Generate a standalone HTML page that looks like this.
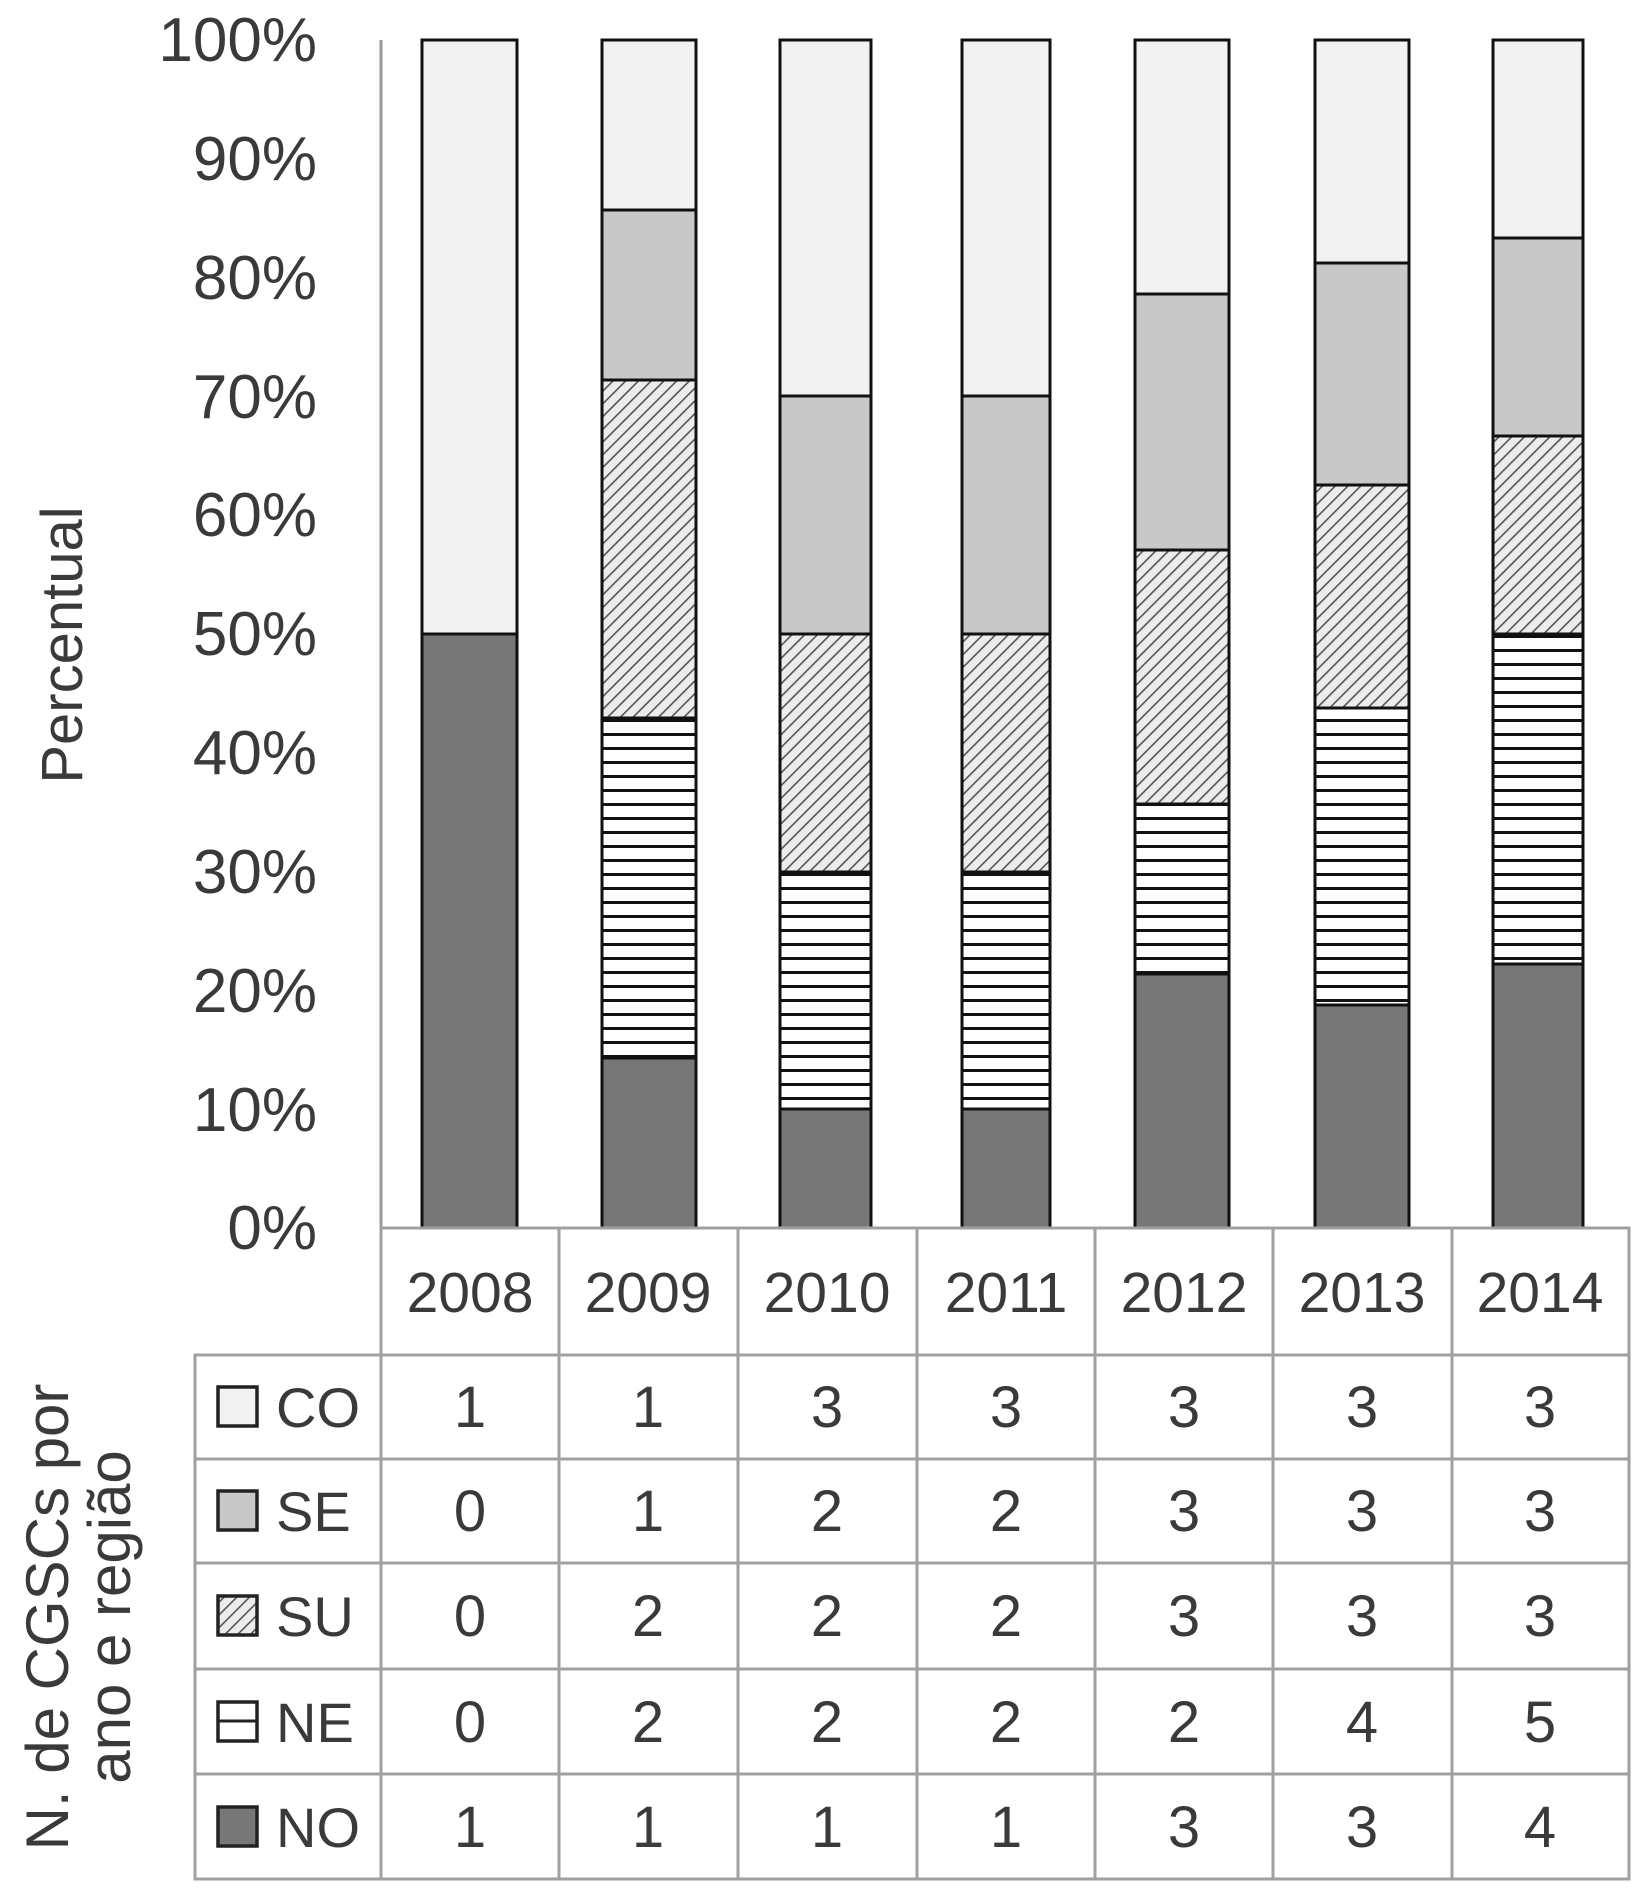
<!DOCTYPE html>
<html><head><meta charset="utf-8"><style>body{margin:0;background:#fff}svg{display:block}text{font-family:"Liberation Sans",sans-serif;fill:#3a3a3a}</style></head><body>
<svg width="1645" height="1900" viewBox="0 0 1645 1900" xmlns="http://www.w3.org/2000/svg">
<defs>
<pattern id="hz" width="10" height="14" patternUnits="userSpaceOnUse"><rect width="10" height="14" fill="#fff"/><rect y="5" width="10" height="3" fill="#111"/></pattern>
<pattern id="dg" width="9" height="9" patternUnits="userSpaceOnUse" patternTransform="rotate(45)"><rect width="9" height="9" fill="#ececec"/><rect x="0" width="1.6" height="9" fill="#555"/></pattern>
</defs>
<line x1="381" y1="40" x2="381" y2="1228" stroke="#999" stroke-width="3"/>
<g font-size="62" text-anchor="end">
<text x="317" y="61">100%</text><text x="317" y="180">90%</text><text x="317" y="299">80%</text><text x="317" y="418">70%</text><text x="317" y="536">60%</text><text x="317" y="655">50%</text><text x="317" y="774">40%</text><text x="317" y="893">30%</text><text x="317" y="1012">20%</text><text x="317" y="1131">10%</text><text x="317" y="1249">0%</text>
</g>
<text transform="translate(82,645) rotate(-90)" font-size="58" text-anchor="middle">Percentual</text>
<g stroke="#111" stroke-width="3">
<rect x="422" y="634" width="95" height="594" fill="#777"/>
<rect x="422" y="40" width="95" height="594" fill="#f2f2f2"/>

<rect x="602" y="1058" width="94" height="170" fill="#777"/>
<rect x="602" y="718" width="94" height="340" fill="url(#hz)"/>
<rect x="602" y="380" width="94" height="338" fill="url(#dg)"/>
<rect x="602" y="210" width="94" height="170" fill="#c8c8c8"/>
<rect x="602" y="40" width="94" height="170" fill="#f2f2f2"/>

<rect x="780" y="1109" width="91" height="119" fill="#777"/>
<rect x="780" y="872" width="91" height="237" fill="url(#hz)"/>
<rect x="780" y="634" width="91" height="238" fill="url(#dg)"/>
<rect x="780" y="396" width="91" height="238" fill="#c8c8c8"/>
<rect x="780" y="40" width="91" height="356" fill="#f2f2f2"/>

<rect x="962" y="1109" width="88" height="119" fill="#777"/>
<rect x="962" y="872" width="88" height="237" fill="url(#hz)"/>
<rect x="962" y="634" width="88" height="238" fill="url(#dg)"/>
<rect x="962" y="396" width="88" height="238" fill="#c8c8c8"/>
<rect x="962" y="40" width="88" height="356" fill="#f2f2f2"/>

<rect x="1135" y="974" width="94" height="254" fill="#777"/>
<rect x="1135" y="804" width="94" height="170" fill="url(#hz)"/>
<rect x="1135" y="550" width="94" height="254" fill="url(#dg)"/>
<rect x="1135" y="294" width="94" height="256" fill="#c8c8c8"/>
<rect x="1135" y="40" width="94" height="254" fill="#f2f2f2"/>

<rect x="1315" y="1005" width="94" height="223" fill="#777"/>
<rect x="1315" y="708" width="94" height="297" fill="url(#hz)"/>
<rect x="1315" y="485" width="94" height="223" fill="url(#dg)"/>
<rect x="1315" y="263" width="94" height="222" fill="#c8c8c8"/>
<rect x="1315" y="40" width="94" height="223" fill="#f2f2f2"/>

<rect x="1493" y="964" width="90" height="264" fill="#777"/>
<rect x="1493" y="634" width="90" height="330" fill="url(#hz)"/>
<rect x="1493" y="436" width="90" height="198" fill="url(#dg)"/>
<rect x="1493" y="238" width="90" height="198" fill="#c8c8c8"/>
<rect x="1493" y="40" width="90" height="198" fill="#f2f2f2"/>
</g>
<g stroke="#a0a0a0" stroke-width="3" fill="none">
<rect x="381" y="1228" width="1248" height="651"/>
<rect x="195" y="1355" width="186" height="524"/>
<line x1="195" y1="1355" x2="1629" y2="1355"/>
<line x1="195" y1="1459" x2="1629" y2="1459"/>
<line x1="195" y1="1563" x2="1629" y2="1563"/>
<line x1="195" y1="1669" x2="1629" y2="1669"/>
<line x1="195" y1="1774" x2="1629" y2="1774"/>
<line x1="559" y1="1228" x2="559" y2="1879"/>
<line x1="738" y1="1228" x2="738" y2="1879"/>
<line x1="917" y1="1228" x2="917" y2="1879"/>
<line x1="1095" y1="1228" x2="1095" y2="1879"/>
<line x1="1273" y1="1228" x2="1273" y2="1879"/>
<line x1="1452" y1="1228" x2="1452" y2="1879"/>
</g>
<g font-size="57" text-anchor="middle">
<text x="470" y="1312">2008</text><text x="648" y="1312">2009</text><text x="827" y="1312">2010</text><text x="1006" y="1312">2011</text><text x="1184" y="1312">2012</text><text x="1362" y="1312">2013</text><text x="1540" y="1312">2014</text>
<g font-size="58">
<text x="470" y="1427">1</text><text x="648" y="1427">1</text><text x="827" y="1427">3</text><text x="1006" y="1427">3</text><text x="1184" y="1427">3</text><text x="1362" y="1427">3</text><text x="1540" y="1427">3</text>
<text x="470" y="1531">0</text><text x="648" y="1531">1</text><text x="827" y="1531">2</text><text x="1006" y="1531">2</text><text x="1184" y="1531">3</text><text x="1362" y="1531">3</text><text x="1540" y="1531">3</text>
<text x="470" y="1636">0</text><text x="648" y="1636">2</text><text x="827" y="1636">2</text><text x="1006" y="1636">2</text><text x="1184" y="1636">3</text><text x="1362" y="1636">3</text><text x="1540" y="1636">3</text>
<text x="470" y="1742">0</text><text x="648" y="1742">2</text><text x="827" y="1742">2</text><text x="1006" y="1742">2</text><text x="1184" y="1742">2</text><text x="1362" y="1742">4</text><text x="1540" y="1742">5</text>
<text x="470" y="1847">1</text><text x="648" y="1847">1</text><text x="827" y="1847">1</text><text x="1006" y="1847">1</text><text x="1184" y="1847">3</text><text x="1362" y="1847">3</text><text x="1540" y="1847">4</text>
</g></g>
<g stroke="#222" stroke-width="3.5">
<rect x="218" y="1387" width="39" height="39" fill="#f2f2f2"/>
<rect x="218" y="1491" width="39" height="39" fill="#c8c8c8"/>
<rect x="218" y="1596" width="39" height="39" fill="url(#dg)"/>
<rect x="218" y="1702" width="39" height="39" fill="#fff"/>
<line x1="218" y1="1721" x2="257" y2="1721" stroke-width="3"/>
<rect x="218" y="1807" width="39" height="39" fill="#777"/>
</g>
<g font-size="56">
<text x="276" y="1427">CO</text><text x="276" y="1531">SE</text><text x="276" y="1636">SU</text><text x="276" y="1742">NE</text><text x="276" y="1847">NO</text>
</g>
<g font-size="60" text-anchor="middle">
<text transform="translate(68,1617) rotate(-90)">N. de CGSCs por</text>
<text transform="translate(130,1617) rotate(-90)">ano e região</text>
</g>
</svg>
</body></html>
